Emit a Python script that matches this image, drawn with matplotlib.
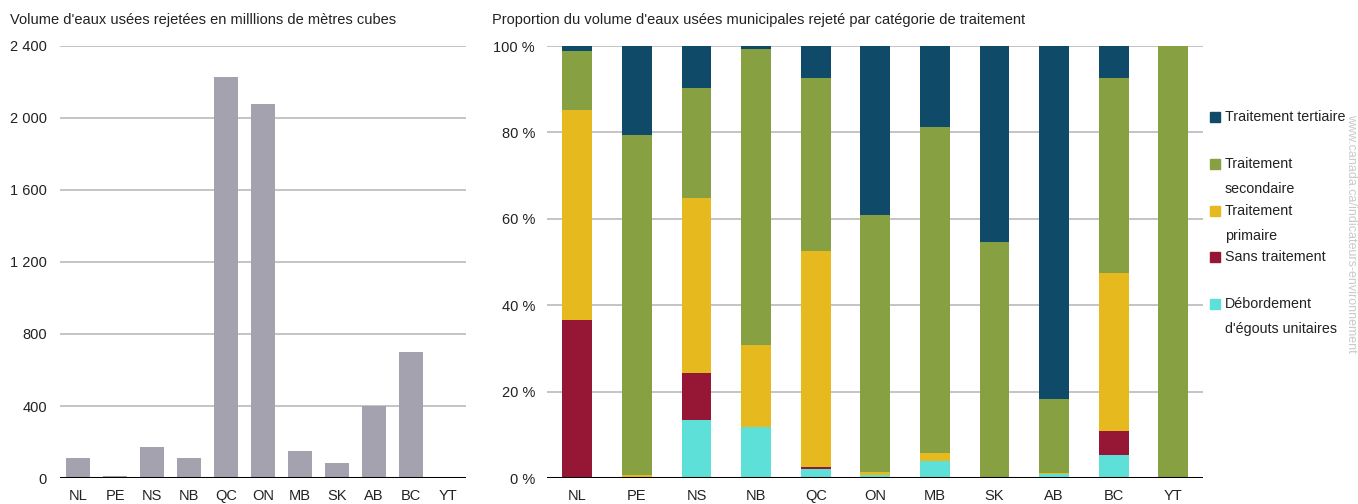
import matplotlib
matplotlib.use("Agg")
import matplotlib.pyplot as plt
from matplotlib.patches import Rectangle
from matplotlib.ticker import FuncFormatter
import numpy as np

plt.rcParams['font.family'] = ['Liberation Sans', 'DejaVu Sans']

provinces = ['NL', 'PE', 'NS', 'NB', 'QC', 'ON', 'MB', 'SK', 'AB', 'BC', 'YT']

# volume rejete (millions de m3)
volume = [113, 9, 174, 111, 2228, 2078, 148, 82, 400, 700, 1]

# proportions par categorie de traitement (%)
debordement = [0, 0, 13.4, 11.7, 2.1, 0.8, 4.0, 0, 0.9, 5.4, 0]
sans_trait = [36.6, 0, 10.8, 0, 0.5, 0, 0, 0, 0, 5.5, 0]
primaire = [48.6, 0.7, 40.6, 19.0, 50.0, 0.5, 1.9, 0, 0.2, 36.5, 0]
secondaire = [13.55, 78.6, 25.4, 68.6, 39.9, 59.6, 75.3, 54.6, 17.3, 45.2, 100]
tertiaire = [1.25, 20.7, 9.8, 0.7, 7.5, 39.1, 18.8, 45.4, 81.6, 7.4, 0]

couleurs = {
    'tert': '#0f4b69',
    'sec': '#87a142',
    'prim': '#e6b91e',
    'sans': '#961636',
    'deb': '#5de0d7',
}
txt = '#222222'
grid_c = '#b4b4b4'

fig = plt.figure(figsize=(13.58, 5.04), dpi=100)
W, H = 1358, 504

def px_axes(x0, x1, y0, y1):
    return fig.add_axes([x0 / W, 1 - y1 / H, (x1 - x0) / W, (y1 - y0) / H])

x = np.arange(len(provinces))

# --- volume ---
ax1 = px_axes(60, 466, 46, 478)
ax1.bar(x, volume, width=0.65, color='#a4a2ae', zorder=2)
ax1.set_ylim(0, 2400)
ax1.set_xlim(-0.5, 10.5)
ax1.set_yticks(np.arange(0, 2401, 400))
ax1.yaxis.set_major_formatter(FuncFormatter(lambda v, p: f'{int(v):,}'.replace(',', ' ')))
ax1.grid(axis='y', color=grid_c, lw=1.1)
ax1.set_axisbelow(True)
ax1.axhline(0, color='black', lw=2.2, zorder=3)
ax1.set_xticks(x)
ax1.set_xticklabels(provinces)
for s in ax1.spines.values():
    s.set_visible(False)
ax1.tick_params(axis='y', length=0, pad=9.5, labelsize=10.5, labelcolor=txt)
ax1.tick_params(axis='x', length=0, pad=8, labelsize=10.5, labelcolor=txt)
fig.text(10 / W, 1 - 20 / H, "Volume d'eaux usées rejetées en milllions de mètres cubes",
         fontsize=10.5, color=txt, va='center', ha='left')

# --- proportions ---
ax2 = px_axes(547, 1203, 46, 478)
bottom = np.zeros(len(provinces))
for vals, key in [(debordement, 'deb'), (sans_trait, 'sans'), (primaire, 'prim'),
                  (secondaire, 'sec'), (tertiaire, 'tert')]:
    ax2.bar(x, vals, bottom=bottom, width=0.5, color=couleurs[key], zorder=2)
    bottom += np.array(vals)
ax2.set_ylim(0, 100)
ax2.set_xlim(-0.51, 10.5)
ax2.set_yticks(np.arange(0, 101, 20))
ax2.yaxis.set_major_formatter(FuncFormatter(lambda v, p: f'{int(v)} %'))
ax2.grid(axis='y', color=grid_c, lw=1.1)
ax2.set_axisbelow(True)
ax2.axhline(0, color='black', lw=2.2, zorder=3)
ax2.set_xticks(x)
ax2.set_xticklabels(provinces)
for s in ax2.spines.values():
    s.set_visible(False)
ax2.tick_params(axis='y', length=0, pad=8.6, labelsize=10.5, labelcolor=txt)
ax2.tick_params(axis='x', length=0, pad=8, labelsize=10.5, labelcolor=txt)
fig.text(492 / W, 1 - 20 / H,
         "Proportion du volume d'eaux usées municipales rejeté par catégorie de traitement",
         fontsize=10.5, color=txt, va='center', ha='left')

# --- legende ---
legende = [
    ('tert', ['Traitement tertiaire'], 117),
    ('sec', ['Traitement', 'secondaire'], 164),
    ('prim', ['Traitement', 'primaire'], 211),
    ('sans', ['Sans traitement'], 257),
    ('deb', ['Débordement', "d'égouts unitaires"], 304),
]
for key, lignes, yc in legende:
    fig.patches.append(Rectangle((1210 / W, 1 - (yc + 5) / H), 10 / W, 10 / H,
                                 transform=fig.transFigure, color=couleurs[key]))
    for i, t in enumerate(lignes):
        fig.text(1225 / W, 1 - (yc + 25 * i) / H, t, fontsize=10.3, color=txt,
                 va='center', ha='left')

fig.text(1351 / W, 1 - 233 / H, 'www.canada.ca/indicateurs-environnement',
         rotation=270, fontsize=9, color='#cacaca', ha='center', va='center')

fig.savefig('out.png', dpi=100)
